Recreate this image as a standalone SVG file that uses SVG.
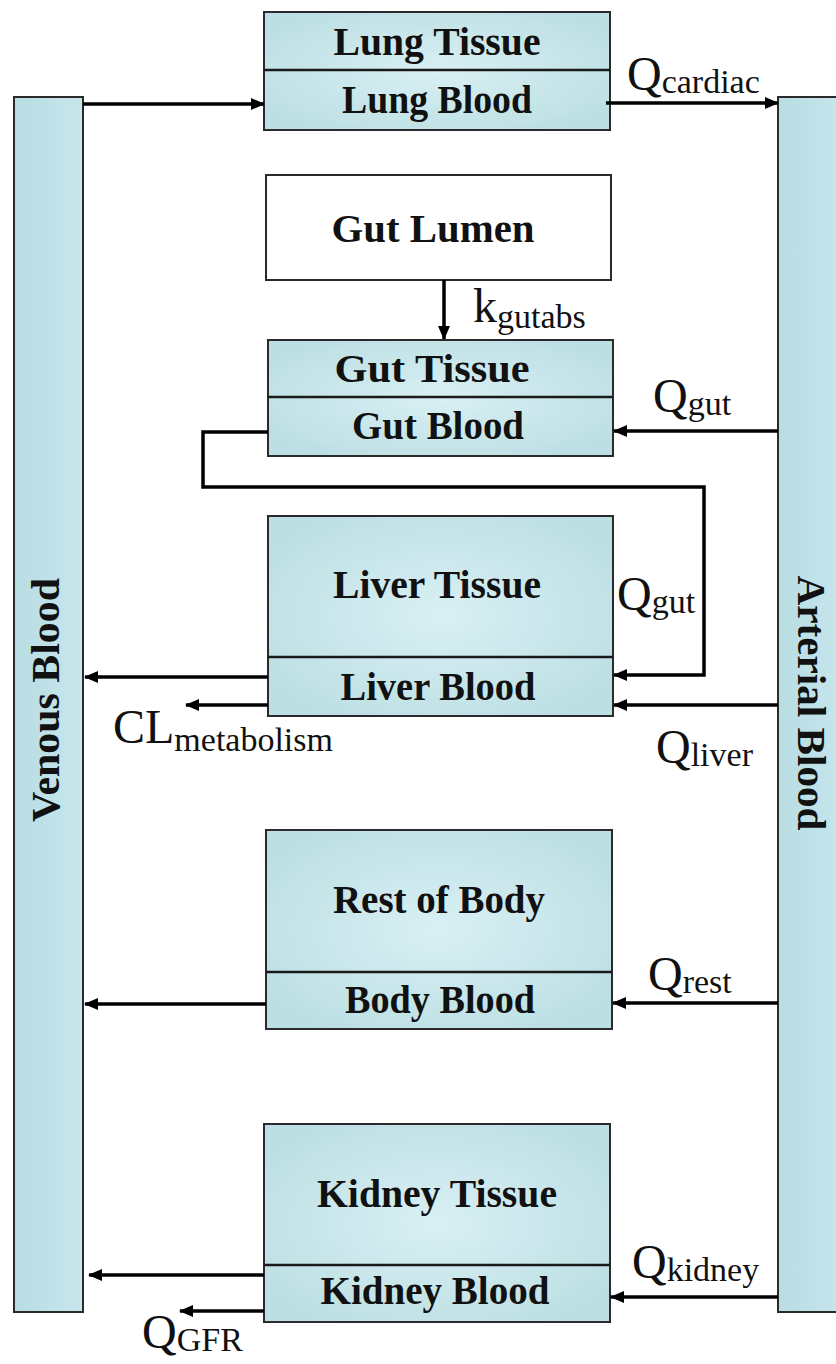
<svg xmlns="http://www.w3.org/2000/svg" width="836" height="1364" viewBox="0 0 836 1364">
<defs>
<radialGradient id="cg" cx="50%" cy="50%" r="60%">
<stop offset="0" stop-color="#d9f0f4"/>
<stop offset="1" stop-color="#bcdfe3"/>
</radialGradient>
<linearGradient id="bar" x1="0" y1="0" x2="1" y2="0">
<stop offset="0" stop-color="#b8dde3"/>
<stop offset="1" stop-color="#c6e6ec"/>
</linearGradient>
<marker id="ah" viewBox="0 0 14 12" refX="13" refY="6" markerWidth="14" markerHeight="12" markerUnits="userSpaceOnUse" orient="auto">
<path d="M0,0 L14,6 L0,12 Z" fill="#000"/>
</marker>
<style>
.box{fill:url(#cg);stroke:#2a2a2a;stroke-width:2}
.white{fill:#fff;stroke:#2a2a2a;stroke-width:2}
.bar{fill:url(#bar);stroke:#2a2a2a;stroke-width:2}
.div{stroke:#1a1a1a;stroke-width:2.5}
.lbl{font-family:"Liberation Serif","Times New Roman",serif;font-weight:bold;font-size:41px;fill:#111;text-anchor:middle}
.q{font-family:"Liberation Serif","Times New Roman",serif;font-size:48px;fill:#111}
.s{font-size:34px}
.c{fill:none;stroke:#000;stroke-width:3.5;marker-end:url(#ah)}
</style>
</defs>

<g id="venous">
<rect class="bar" x="14" y="97" width="69" height="1215"/>
<text class="lbl" transform="translate(59,700) rotate(-90)" textLength="244" lengthAdjust="spacingAndGlyphs">Venous  Blood</text>
</g>

<g id="arterial">
<rect class="bar" x="778" y="97" width="70" height="1215"/>
<text class="lbl" transform="translate(798,703) rotate(90)" textLength="255" lengthAdjust="spacingAndGlyphs">Arterial  Blood</text>
</g>

<g id="lung">
<rect class="box" x="264" y="12" width="346" height="118"/>
<line class="div" x1="264" y1="70" x2="610" y2="70"/>
<text class="lbl" x="437" y="55" textLength="207" lengthAdjust="spacingAndGlyphs">Lung Tissue</text>
<text class="lbl" x="437" y="113" textLength="190" lengthAdjust="spacingAndGlyphs">Lung Blood</text>
</g>

<g id="gut-lumen">
<rect class="white" x="266" y="175" width="345" height="105"/>
<text class="lbl" x="433" y="242" textLength="203" lengthAdjust="spacingAndGlyphs">Gut  Lumen</text>
</g>

<g id="gut">
<rect class="box" x="268" y="340" width="345" height="116"/>
<line class="div" x1="268" y1="397" x2="613" y2="397"/>
<text class="lbl" x="432" y="382" textLength="195" lengthAdjust="spacingAndGlyphs">Gut  Tissue</text>
<text class="lbl" x="438" y="439" textLength="172" lengthAdjust="spacingAndGlyphs">Gut  Blood</text>
</g>

<g id="liver">
<rect class="box" x="268" y="516" width="345" height="200"/>
<line class="div" x1="268" y1="657" x2="613" y2="657"/>
<text class="lbl" x="437" y="598" textLength="208" lengthAdjust="spacingAndGlyphs">Liver Tissue</text>
<text class="lbl" x="438" y="700" textLength="195" lengthAdjust="spacingAndGlyphs">Liver Blood</text>
</g>

<g id="rest">
<rect class="box" x="266" y="830" width="346" height="199"/>
<line class="div" x1="266" y1="972" x2="612" y2="972"/>
<text class="lbl" x="439" y="913" textLength="212" lengthAdjust="spacingAndGlyphs">Rest of Body</text>
<text class="lbl" x="440" y="1013" textLength="190" lengthAdjust="spacingAndGlyphs">Body Blood</text>
</g>

<g id="kidney">
<rect class="box" x="264" y="1124" width="346" height="198"/>
<line class="div" x1="264" y1="1265" x2="610" y2="1265"/>
<text class="lbl" x="437" y="1207" textLength="240" lengthAdjust="spacingAndGlyphs">Kidney  Tissue</text>
<text class="lbl" x="435" y="1304" textLength="229" lengthAdjust="spacingAndGlyphs">Kidney  Blood</text>
</g>

<g id="connectors">
<path class="c" d="M83,104 H264"/>
<path class="c" d="M606,103 H778"/>
<path class="c" d="M444,280 V339"/>
<path class="c" d="M778,431 H614"/>
<path class="c" d="M268,432 H203 V487 H704 V675 H614"/>
<path class="c" d="M268,677 H85"/>
<path class="c" d="M268,705 H186"/>
<path class="c" d="M778,705 H614"/>
<path class="c" d="M778,1003 H613"/>
<path class="c" d="M266,1004 H85"/>
<path class="c" d="M264,1275 H89"/>
<path class="c" d="M264,1311 H180"/>
<path class="c" d="M778,1297 H611"/>
</g>

<g id="labels">
<text class="q" x="627" y="90">Q<tspan class="s" dy="3">cardiac</tspan></text>
<text class="q" x="473" y="322">k<tspan class="s" dy="6">gutabs</tspan></text>
<text class="q" x="653" y="412">Q<tspan class="s" dy="3">gut</tspan></text>
<text class="q" x="617" y="610">Q<tspan class="s" dy="3">gut</tspan></text>
<text class="q" x="656" y="763">Q<tspan class="s" dy="3">liver</tspan></text>
<text class="q" x="113" y="743">CL<tspan class="s" dy="8">metabolism</tspan></text>
<text class="q" x="648" y="990">Q<tspan class="s" dy="3">rest</tspan></text>
<text class="q" x="632" y="1278">Q<tspan class="s" dy="3">kidney</tspan></text>
<text class="q" x="142" y="1348">Q<tspan class="s" dy="3">GFR</tspan></text>
</g>
</svg>
